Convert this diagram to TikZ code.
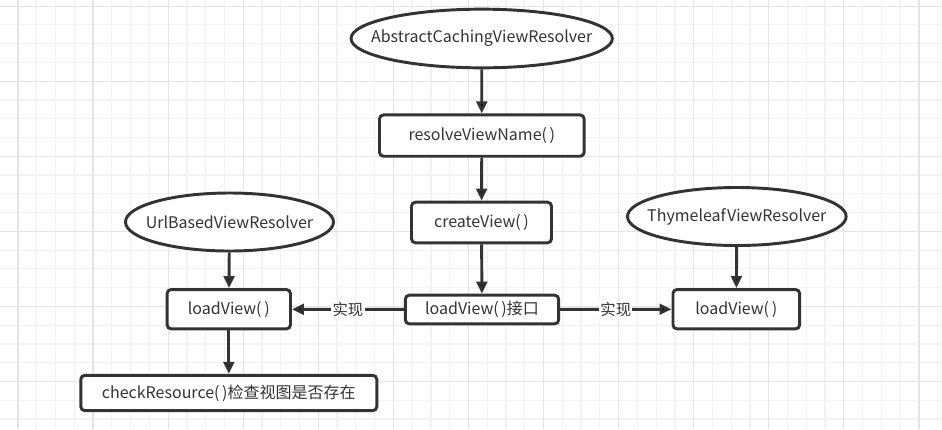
\documentclass[tikz,border=0pt]{standalone}
\usepackage{fontspec}
\setmainfont{Noto Sans CJK SC}
\usepackage{tikz}
\usetikzlibrary{arrows.meta,shapes.geometric}

\definecolor{ink}{HTML}{333333}
\definecolor{gridminor}{HTML}{F2F2F2}
\definecolor{gridmajor}{HTML}{E4E4E4}

% keep the ellipse size from the minimum width, not from the text
\newcommand{\slimtext}[1]{\makebox[0pt]{#1}}

\tikzset{
  box/.style={draw=ink, line width=2.2pt, rounded corners=3pt, fill=white,
    text=ink, font=\fontsize{12pt}{14pt}\selectfont, inner sep=0pt},
  resolver/.style={ellipse, draw=ink, line width=2.2pt, fill=white,
    text=ink, font=\fontsize{12pt}{14pt}\selectfont, inner sep=0pt},
  link/.style={draw=ink, line width=2.2pt, -{Triangle[length=9pt,width=8pt]}},
  impl/.style={fill=white, text=ink, inner sep=1pt, font=\fontsize{11.5pt}{13pt}\selectfont}
}

\begin{document}
\begin{tikzpicture}[x=0.75pt, y=-0.75pt]
  \useasboundingbox (0,0) rectangle (942,429);
  % grid
  \fill[white] (0,0) rectangle (942,429);
  \foreach \i in {0,...,50} {
    \draw[gridminor, line width=0.9pt] ({-0.8+18.77*\i},0) -- ({-0.8+18.77*\i},429);
  }
  \foreach \j in {0,...,22} {
    \draw[gridminor, line width=0.9pt] (0,{6.1+18.77*\j}) -- (942,{6.1+18.77*\j});
  }
  \foreach \i in {0,...,12} {
    \draw[gridmajor, line width=0.9pt] ({18+75.08*\i},0) -- ({18+75.08*\i},429);
  }
  \foreach \j in {0,...,5} {
    \draw[gridmajor, line width=0.9pt] (0,{6.1+75.08*\j}) -- (942,{6.1+75.08*\j});
  }

  % nodes
  \node[resolver, minimum width=196pt, minimum height=44pt] (abstract) at (481.7,38.5) {\slimtext{AbstractCachingViewResolver}};
  \node[box, minimum width=153.5pt, minimum height=31pt] (resolve) at (481.8,135.6) {resolveViewName(\,)};
  \node[box, minimum width=105pt, minimum height=30.5pt] (create) at (481.5,222.5) {createView(\,)};
  \node[box, minimum width=115pt, minimum height=21.5pt] (iface) at (482,309.5) {loadView(\,)接口};

  \node[resolver, minimum width=156pt, minimum height=43.5pt] (urlbased) at (229.5,222) {\slimtext{UrlBasedViewResolver}};
  \node[box, minimum width=92.5pt, minimum height=29.5pt] (loadleft) at (228.8,309.2) {loadView(\,)};
  \node[box, minimum width=222pt, minimum height=26.5pt] (check) at (228.8,393) {checkResource(\,)检查视图是否存在};

  \node[resolver, minimum width=164pt, minimum height=43.5pt] (thymeleaf) at (736.8,216.5) {\slimtext{ThymeleafViewResolver}};
  \node[box, minimum width=95pt, minimum height=29.5pt] (loadright) at (736.3,309.2) {loadView(\,)};

  % connectors
  \path[link]
    (abstract) edge (resolve)
    (resolve) edge (create)
    (create) edge (iface)
    (urlbased) edge (loadleft)
    (loadleft) edge (check)
    (thymeleaf) edge (loadright)
    (iface) edge node[impl] {实现} (loadleft)
    (iface) edge node[impl] {实现} (loadright)
    ;
\end{tikzpicture}
\end{document}
